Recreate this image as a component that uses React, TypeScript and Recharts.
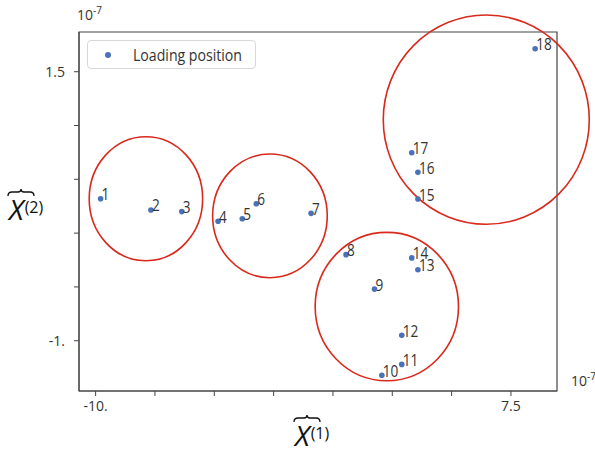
import { ScatterChart, Scatter, XAxis, YAxis, ReferenceArea, Legend } from "recharts";

// ─── Data (values in units of 1e-7) ──────────────────────────────────────────

const pointIds = [1, 2, 3, 4, 5, 6, 7, 8, 9, 10, 11, 12, 13, 14, 15, 16, 17, 18];
const xValues = [-9.79, -7.67, -6.37, -4.84, -3.82, -3.23, -0.92, 0.55, 1.75, 2.06, 2.9, 2.9, 3.58, 3.32, 3.58, 3.58, 3.32, 8.52];
const yValues = [0.32, 0.215, 0.2, 0.11, 0.134, 0.273, 0.184, -0.2, -0.52, -1.32, -1.22, -0.95, -0.34, -0.23, 0.317, 0.565, 0.747, 1.714];

const xTicks = [-10, -7.5, -5, -2.5, 0, 2.5, 5, 7.5];
const yTicks = [-1, -0.5, 0, 0.5, 1, 1.5];
const xTickText: Record<string, string> = { "-10": "-10.", "7.5": "7.5" };
const yTickText: Record<string, string> = { "1.5": "1.5", "-1": "-1." };

// cluster rings, bounding boxes in data units
const ringX1 = [-10.27, -5.07, -0.75, 2.12];
const ringX2 = [-5.49, -0.24, 5.29, 10.8];
const ringY1 = [-0.257, -0.414, -1.372, 0.082];
const ringY2 = [0.896, 0.735, 0.007, 2.027];

const X_DOMAIN: [number, number] = [-10.7, 9.44];
const Y_DOMAIN: [number, number] = [-1.467, 1.869];

const points = pointIds.map((id, i) => ({ id, x: xValues[i], y: yValues[i] }));

const DOT = "#4a72b8";
const RING = "#d9291c";
const INK = "#333";
const FONT = "'Open Sans', sans-serif";

// ─── Shapes ──────────────────────────────────────────────────────────────────

const PointShape = (p: any) => (
  <g>
    <circle cx={p.cx} cy={p.cy} r={2.8} fill={DOT} />
    <g transform={`translate(${p.cx + 1},${p.cy + 1.5}) scale(0.85,1)`}>
      <text x={0} y={0} fontSize={16} fontFamily={FONT} fill={INK}>
        {p.payload.id}
      </text>
    </g>
  </g>
);

const RingShape = (p: any) => (
  <ellipse
    cx={p.x + p.width / 2}
    cy={p.y + p.height / 2}
    rx={Math.abs(p.width) / 2}
    ry={Math.abs(p.height) / 2}
    fill="none"
    stroke={RING}
    strokeWidth={1.6}
  />
);

const Brace = ({ x, y, w }: { x: number; y: number; w: number }) => {
  const m = x + w / 2;
  return (
    <path
      d={`M${x} ${y + 4} Q${x} ${y} ${x + 4} ${y} L${m - 3} ${y} Q${m} ${y} ${m} ${y - 3} Q${m} ${y} ${m + 3} ${y} L${x + w - 4} ${y} Q${x + w} ${y} ${x + w} ${y + 4}`}
      fill="none"
      stroke="#111"
      strokeWidth={1.3}
    />
  );
};

const Exponent = ({ x, y }: { x: number; y: number }) => (
  <text x={x} y={y} fontSize={14} fontFamily={FONT} fill={INK}>
    10
    <tspan fontSize={10} dy={-6}>
      -7
    </tspan>
  </text>
);

const AxisName = ({ x, y, idx }: { x: number; y: number; idx: number }) => (
  <g>
    <Brace x={x - 1} y={y - 28} w={26} />
    <text x={x} y={y} fontSize={28} fontStyle="italic" fontFamily={FONT} fill="#111">
      X
      <tspan fontSize={16} fontStyle="normal" dx={1} dy={-7}>
        ({idx})
      </tspan>
    </text>
  </g>
);

const XLabel = () => (
  <g>
    <AxisName x={295} y={446} idx={1} />
    <Exponent x={571} y={386} />
  </g>
);

const YLabel = () => (
  <g>
    <AxisName x={9} y={220} idx={2} />
    <Exponent x={77} y={20} />
  </g>
);

const LegendBox = () => (
  <div
    style={{
      position: "relative",
      width: 169,
      height: 29,
      boxSizing: "border-box",
      border: "1px solid #d8d8d8",
      borderRadius: 4,
      background: "rgba(255,255,255,0.85)",
      fontFamily: FONT,
    }}
  >
    <span
      style={{
        position: "absolute",
        left: 17,
        top: 11,
        width: 6,
        height: 6,
        borderRadius: 3,
        background: DOT,
      }}
    />
    <span
      style={{
        position: "absolute",
        left: 45,
        top: 2,
        fontSize: 17,
        lineHeight: "24px",
        color: INK,
        whiteSpace: "nowrap",
        transform: "scaleX(0.83)",
        transformOrigin: "left center",
      }}
    >
      Loading position
    </span>
  </div>
);

// ─── Chart ───────────────────────────────────────────────────────────────────

export default function App() {
  return (
    <div style={{ position: "absolute", left: 0, top: 0, width: 595, height: 449, background: "#fff" }}>
      <ScatterChart width={595} height={449} margin={{ top: 32, right: 38, bottom: 28, left: 19 }}>
        <XAxis
          type="number"
          dataKey="x"
          domain={X_DOMAIN}
          allowDataOverflow
          ticks={xTicks}
          tickFormatter={(v: number) => xTickText[String(v)] ?? ""}
          tick={{ fill: INK, fontSize: 14, fontFamily: FONT }}
          tickSize={5}
          tickMargin={5}
          stroke="#444"
          height={30}
          label={() => <XLabel />}
        />
        <YAxis
          type="number"
          dataKey="y"
          domain={Y_DOMAIN}
          allowDataOverflow
          ticks={yTicks}
          tickFormatter={(v: number) => yTickText[String(v)] ?? ""}
          tick={{ fill: INK, fontSize: 14, fontFamily: FONT }}
          tickSize={5}
          tickMargin={9}
          stroke="#444"
          width={60}
          label={() => <YLabel />}
        />
        <ReferenceArea
          x1={X_DOMAIN[0]}
          x2={X_DOMAIN[1]}
          y1={Y_DOMAIN[0]}
          y2={Y_DOMAIN[1]}
          fill="none"
          stroke="#444"
          strokeWidth={1.2}
          ifOverflow="visible"
        />
        {ringX1.map((x1, i) => (
          <ReferenceArea
            key={i}
            x1={x1}
            x2={ringX2[i]}
            y1={ringY1[i]}
            y2={ringY2[i]}
            ifOverflow="visible"
            shape={RingShape}
          />
        ))}
        <Legend
          layout="vertical"
          align="center"
          verticalAlign="middle"
          wrapperStyle={{ top: 40, left: 87, width: 169 }}
          content={() => <LegendBox />}
        />
        <Scatter
          name="Loading position"
          data={points}
          fill={DOT}
          shape={PointShape}
          isAnimationActive={false}
        />
      </ScatterChart>
    </div>
  );
}
